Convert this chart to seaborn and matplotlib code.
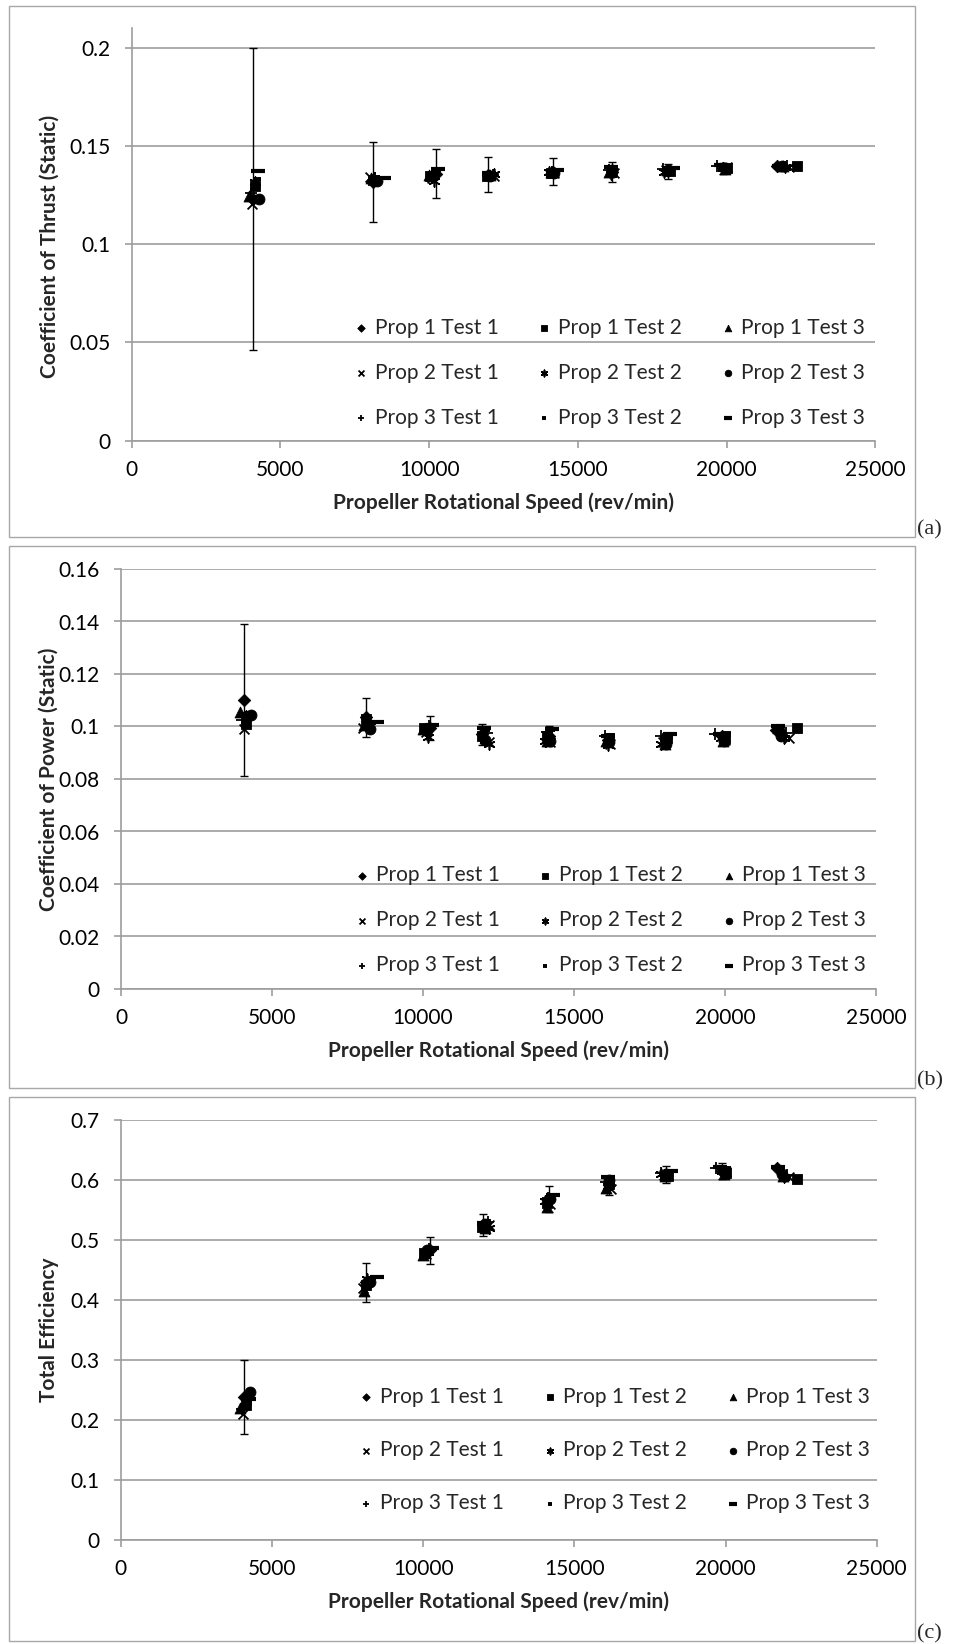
"""
Three stacked scatter charts of static propeller tests:
(a) thrust coefficient, (b) power coefficient, (c) total efficiency,
each against propeller rotational speed, 3 props x 3 tests.
"""
import matplotlib
matplotlib.use('Agg')
import matplotlib.pyplot as plt
from matplotlib.patches import Rectangle
from matplotlib.ticker import FuncFormatter
import pandas as pd
import seaborn as sns

# --- data -------------------------------------------------------------------
SERIES = ['Prop 1 Test 1', 'Prop 1 Test 2', 'Prop 1 Test 3',
          'Prop 2 Test 1', 'Prop 2 Test 2', 'Prop 2 Test 3',
          'Prop 3 Test 1', 'Prop 3 Test 2', 'Prop 3 Test 3']

# rotational speed (rev/min) of each test point
rpm_p1t1 = [4089, 8103, 10222, 11970, 14156, 16140, 18043, 19893, 21700]
rpm_p1t2 = [4146, 8120, 10030, 11960, 14100, 16150, 18090, 20000, 22380]
rpm_p1t3 = [3930, 8030, 10010, 12050, 14090, 16060, 18000, 19940, 21900]
rpm_p2t1 = [4060, 8010, 10110, 12190, 14200, 16200, 17960, 20010, 22110]
rpm_p2t2 = [4140, 8150, 10150, 12170, 14030, 16120, 17880, 19880, 21950]
rpm_p2t3 = [4291, 8230, 10140, 12060, 14190, 16150, 18030, 19960, 21860]
rpm_p3t1 = [4010, 8180, 10210, 12130, 14120, 16040, 17870, 19680, 22020]
rpm_p3t2 = [4200, 8320, 10250, 12100, 14230, 16210, 18140, 20060, 21800]
rpm_p3t3 = [4240, 8466, 10300, 12010, 14280, 16110, 18190, 19820, 21746]

# (a) coefficient of thrust
ct_p1t1 = [0.1230, 0.1315, 0.1359, 0.1354, 0.1369, 0.1368, 0.1370, 0.1385, 0.1395]
ct_p1t2 = [0.1295, 0.1325, 0.1345, 0.1348, 0.1362, 0.1372, 0.1370, 0.1385, 0.1395]
ct_p1t3 = [0.1245, 0.1335, 0.1350, 0.1350, 0.1365, 0.1365, 0.1375, 0.1380, 0.1395]
ct_p2t1 = [0.1205, 0.1340, 0.1335, 0.1348, 0.1360, 0.1360, 0.1375, 0.1390, 0.1392]
ct_p2t2 = [0.1315, 0.1335, 0.1320, 0.1358, 0.1365, 0.1355, 0.1368, 0.1385, 0.1390]
ct_p2t3 = [0.1230, 0.1322, 0.1345, 0.1345, 0.1362, 0.1375, 0.1378, 0.1385, 0.1395]
ct_p3t1 = [0.1260, 0.1338, 0.1350, 0.1352, 0.1365, 0.1375, 0.1382, 0.1395, 0.1395]
ct_p3t2 = [0.1330, 0.1335, 0.1375, 0.1358, 0.1375, 0.1390, 0.1380, 0.1395, 0.1400]
ct_p3t3 = [0.1370, 0.1335, 0.1380, 0.1362, 0.1378, 0.1392, 0.1385, 0.1405, 0.1398]
ct_err = [0.077, 0.0204, 0.0123, 0.0089, 0.0067, 0.0050, 0.0040, 0.0030, 0.0010]

# (b) coefficient of power
cp_p1t1 = [0.1100, 0.1035, 0.0995, 0.0970, 0.0965, 0.0950, 0.0955, 0.0965, 0.0985]
cp_p1t2 = [0.1010, 0.1030, 0.0995, 0.0965, 0.0965, 0.0955, 0.0955, 0.0955, 0.0995]
cp_p1t3 = [0.1055, 0.1005, 0.0990, 0.0955, 0.0945, 0.0945, 0.0935, 0.0945, 0.0985]
cp_p2t1 = [0.0990, 0.0995, 0.0980, 0.0940, 0.0940, 0.0935, 0.0940, 0.0950, 0.0955]
cp_p2t2 = [0.1040, 0.1015, 0.0960, 0.0935, 0.0945, 0.0930, 0.0935, 0.0955, 0.0958]
cp_p2t3 = [0.1042, 0.0990, 0.0985, 0.0950, 0.0945, 0.0940, 0.0935, 0.0945, 0.0965]
cp_p3t1 = [0.1025, 0.1005, 0.1000, 0.0975, 0.0980, 0.0965, 0.0965, 0.0970, 0.0975]
cp_p3t2 = [0.1050, 0.1015, 0.1002, 0.0985, 0.0985, 0.0968, 0.0962, 0.0975, 0.0995]
cp_p3t3 = [0.1048, 0.1018, 0.1005, 0.0995, 0.0990, 0.0965, 0.0970, 0.0970, 0.1000]
cp_err = [0.029, 0.0075, 0.0045, 0.0040, 0.0035, 0.0020, 0.0015, 0.0010, 0.0010]

# (c) total efficiency
eff_p1t1 = [0.2385, 0.4295, 0.4830, 0.5250, 0.5685, 0.5910, 0.6090, 0.6150, 0.6200]
eff_p1t2 = [0.2250, 0.4250, 0.4780, 0.5220, 0.5620, 0.5930, 0.6070, 0.6120, 0.6020]
eff_p1t3 = [0.2200, 0.4150, 0.4750, 0.5200, 0.5550, 0.5870, 0.6060, 0.6100, 0.6060]
eff_p2t1 = [0.2100, 0.4200, 0.4760, 0.5250, 0.5600, 0.5850, 0.6080, 0.6130, 0.6050]
eff_p2t2 = [0.2300, 0.4350, 0.4800, 0.5200, 0.5650, 0.5900, 0.6100, 0.6150, 0.6050]
eff_p2t3 = [0.2470, 0.4300, 0.4830, 0.5270, 0.5680, 0.6000, 0.6100, 0.6130, 0.6100]
eff_p3t1 = [0.2180, 0.4280, 0.4850, 0.5300, 0.5700, 0.5970, 0.6120, 0.6200, 0.6080]
eff_p3t2 = [0.2280, 0.4370, 0.4860, 0.5320, 0.5660, 0.6020, 0.6130, 0.6200, 0.6150]
eff_p3t3 = [0.2350, 0.4390, 0.4870, 0.5280, 0.5750, 0.6050, 0.6150, 0.6220, 0.6220]
eff_err = [0.0615, 0.0325, 0.0223, 0.0180, 0.0215, 0.0160, 0.0140, 0.0130, 0.0020]

RPM = [rpm_p1t1, rpm_p1t2, rpm_p1t3, rpm_p2t1, rpm_p2t2, rpm_p2t3,
       rpm_p3t1, rpm_p3t2, rpm_p3t3]
CT = [ct_p1t1, ct_p1t2, ct_p1t3, ct_p2t1, ct_p2t2, ct_p2t3, ct_p3t1, ct_p3t2, ct_p3t3]
CP = [cp_p1t1, cp_p1t2, cp_p1t3, cp_p2t1, cp_p2t2, cp_p2t3, cp_p3t1, cp_p3t2, cp_p3t3]
EFF = [eff_p1t1, eff_p1t2, eff_p1t3, eff_p2t1, eff_p2t2, eff_p2t3,
       eff_p3t1, eff_p3t2, eff_p3t3]

# --- style --------------------------------------------------------------------
W, H = 966, 1644
GREY = '#9d9d9d'
FS = 15

sns.set_style('white')
plt.rcParams['font.family'] = ['Lato', 'DejaVu Sans']

MARKERS = ['D', 's', '^', 'x', (6, 2, 0), 'o', '+', '_', '_']
SIZES = [40, 52, 62, 50, 58, 62, 66, 30, 90]
LWS = [0.6, 0.6, 0.6, 1.3, 1.2, 0.6, 1.3, 2.8, 3.0]


def px_axes(left, right, bottom, top):
    # figure pixel box -> fraction rect
    return [left / W, 1 - bottom / H, (right - left) / W, (bottom - top) / H]


def draw_panel(ax, yvals, err, ylim, yticks, ylabel, leg_xy, labelspacing):
    frames = []
    for name, x, y in zip(SERIES, RPM, yvals):
        frames.append(pd.DataFrame({'serie': name, 'rpm': x, 'val': y}))
    df = pd.concat(frames, ignore_index=True)

    first = df[df['serie'] == SERIES[0]]
    ax.errorbar(first['rpm'], first['val'], yerr=err, fmt='none', ecolor='black',
                elinewidth=1, capsize=3, capthick=1, zorder=2)

    for name, m, s, lw in zip(SERIES, MARKERS, SIZES, LWS):
        sub = df[df['serie'] == name]
        sns.scatterplot(data=sub, x='rpm', y='val', marker=m, s=s, color='black',
                        edgecolor='black', linewidth=lw, label=name, ax=ax, zorder=3)

    ax.set_xlim(0, 25000)
    ax.set_ylim(*ylim)
    ax.set_xticks(range(0, 25001, 5000))
    ax.set_yticks(yticks)
    ax.yaxis.set_major_formatter(FuncFormatter(lambda v, p: f'{round(v, 4):g}'))
    ax.grid(axis='y', color=GREY, lw=1.2)
    ax.grid(axis='x', visible=False)
    ax.set_axisbelow(True)
    for side in ['top', 'right']:
        ax.spines[side].set_visible(False)
    for side in ['left', 'bottom']:
        ax.spines[side].set_color(GREY)
        ax.spines[side].set_linewidth(1.2)
    ax.tick_params(axis='both', which='major', direction='out', length=5,
                   width=1.2, color=GREY, labelsize=FS, labelcolor='black',
                   left=True, bottom=True)
    ax.tick_params(axis='x', pad=9)
    ax.tick_params(axis='y', pad=10.5)

    ax.set_xlabel('Propeller Rotational Speed (rev/min)', fontsize=FS,
                  fontweight='bold', va='center')
    ax.set_ylabel(ylabel, fontsize=FS, fontweight='bold', va='center')

    handles, labels = ax.get_legend_handles_labels()
    order = [0, 3, 6, 1, 4, 7, 2, 5, 8]
    ax.legend([handles[i] for i in order], [labels[i] for i in order],
              ncol=3, loc='center', bbox_to_anchor=leg_xy, frameon=False,
              fontsize=FS, handlelength=0.6, handletextpad=0.35,
              columnspacing=1.9, labelspacing=labelspacing, markerscale=0.6,
              borderpad=0)
    return ax


fig = plt.figure(figsize=(W / 100, H / 100), dpi=100)

# panel frames and side labels
for top, bottom, tag in [(6, 537, '(a)'), (546, 1088, '(b)'), (1097, 1641, '(c)')]:
    fig.add_artist(Rectangle((9 / W, 1 - bottom / H), (915 - 9) / W, (bottom - top) / H,
                             transform=fig.transFigure, fill=False, ec='#a8a8a8', lw=1))
    fig.text(917 / W, 1 - (bottom - 7) / H, tag, family='Liberation Serif',
             fontsize=16, ha='left', va='center')

ax_a = fig.add_axes(px_axes(131.7, 875.4, 440.7, 27.9))
draw_panel(ax_a, CT, ct_err, (0, 0.21), [0, 0.05, 0.1, 0.15, 0.2],
           'Coefficient of Thrust (Static)', (0.643, 0.165), 1.2)
ax_a.xaxis.set_label_coords(0.5, -62 / 412.8)
ax_a.yaxis.set_label_coords(-82 / 743.7, 0.47)

ax_b = fig.add_axes(px_axes(121, 876, 989, 569))
draw_panel(ax_b, CP, cp_err, (0, 0.16), [0, 0.02, 0.04, 0.06, 0.08, 0.1, 0.12, 0.14, 0.16],
           'Coefficient of Power (Static)', (0.649, 0.164), 1.2)
ax_b.xaxis.set_label_coords(0.5, -62 / 420)
ax_b.yaxis.set_label_coords(-72 / 755, 0.5)

ax_c = fig.add_axes(px_axes(120.7, 876.7, 1540, 1120))
draw_panel(ax_c, EFF, eff_err, (0, 0.7), [0, 0.1, 0.2, 0.3, 0.4, 0.5, 0.6, 0.7],
           'Total Efficiency', (0.654, 0.214), 1.6)
ax_c.xaxis.set_label_coords(0.5, -62 / 420)
ax_c.yaxis.set_label_coords(-72 / 756, 0.5)

fig.savefig('out.png', dpi=100)
